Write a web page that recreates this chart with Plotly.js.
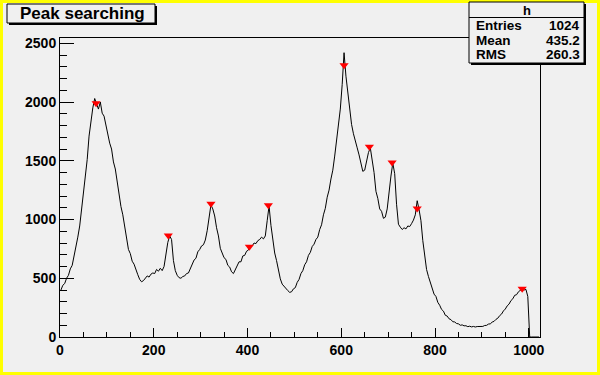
<!DOCTYPE html>
<html>
<head>
<meta charset="utf-8">
<script src="https://cdn.plot.ly/plotly-3.0.1.min.js"></script>
<style>
  html, body { margin: 0; padding: 0; background: #f0f0f0; }
  #chart { width: 600px; height: 375px; }
</style>
</head>
<body>
<div id="chart"></div>
<script>
// Histogram "h": bin contents, bins of width 4 starting at 0
const binStart = 0;
const binWidth = 4;
const counts = [
  400, 440, 455, 500, 525, 580, 610, 690, 750, 850,
  945, 1080, 1200, 1370, 1510, 1710, 1850, 1950, 2030, 1985,
  1940, 2000, 1905, 1880, 1800, 1750, 1650, 1600, 1490, 1430,
  1320, 1250, 1110, 1040, 940, 850, 745, 710, 645, 620,
  565, 530, 490, 470, 480, 500, 520, 510, 535, 545,
  540, 575, 560, 585, 565, 600, 720, 805, 860, 830,
  650, 565, 525, 505, 500, 515, 520, 540, 545, 580,
  610, 655, 670, 725, 745, 775, 785, 825, 905, 1015,
  1125, 1090, 1030, 930, 860, 755, 715, 675, 660, 610,
  595, 555, 540, 575, 600, 640, 640, 690, 695, 730,
  740, 770, 775, 800, 795, 820, 830, 850, 835, 860,
  990, 1115, 950, 825, 715, 650, 555, 495, 450, 430,
  405, 395, 380, 385, 410, 420, 465, 490, 540, 565,
  615, 640, 695, 720, 770, 790, 830, 850, 915, 955,
  1040, 1095, 1190, 1250, 1345, 1420, 1540, 1670, 1850, 1940,
  2150, 2420, 2220, 2080, 1900, 1810, 1730, 1660, 1610, 1550,
  1490, 1410, 1420, 1490, 1570, 1610, 1510, 1400, 1240, 1180,
  1090, 1070, 1010, 1020, 1090, 1240, 1370, 1480, 1390, 1130,
  960, 935, 915, 930, 920, 945, 940, 965, 995, 1040,
  1160, 1085, 990, 820, 700, 575, 515, 460, 425, 365,
  345, 295, 270, 235, 220, 185, 178, 155, 148, 130,
  128, 115, 112, 100, 103, 95, 96, 88, 92, 86,
  90, 85, 89, 88, 92, 90, 98, 99, 110, 112,
  127, 133, 150, 160, 182, 195, 222, 238, 265, 280,
  310, 325, 355, 360, 385, 395, 410, 400, 405, 345,
  0, 0, 0, 0, 0, 0
];

// Peaks found (positions and heights)
const peakX = [77, 231, 322, 404, 444.5, 606, 660, 708.5, 762, 986];
const peakY = [1990, 865, 1135, 768, 1122, 2313, 1620, 1485, 1094, 411];

// Axis ticks
const xTicks = [0, 200, 400, 600, 800, 1000];
const yTicks = [0, 500, 1000, 1500, 2000, 2500];

// Texts
const titleText = "Peak searching";
const statsName = "h";
const statsLabels = ["Entries", "Mean", "RMS"];
const statsValues = ["1024", "435.2", "260.3"];

// Bin centres
const centres = counts.map((_, i) => binStart + (i + 0.5) * binWidth);

const W = 600, H = 375;
const L = 60, R = 540, T = 38, B = 337;
const px = x => (x - L) / (R - L);
const py = y => (B - y) / (B - T);

const FONT = "Liberation Sans, Arial, Helvetica, sans-serif";

const traces = [
  {
    x: centres, y: counts, type: 'scatter', mode: 'lines',
    line: { color: '#000000', width: 1, shape: 'linear' },
    hoverinfo: 'skip', showlegend: false
  },
  {
    x: peakX, y: peakY, type: 'scatter', mode: 'markers',
    marker: { symbol: 'triangle-down', color: '#ff0000', size: 8, line: { width: 0 } },
    showlegend: false
  }
];

const shapes = [
  // canvas yellow border
  { type: 'rect', xref: 'paper', yref: 'paper', x0: px(1.5), x1: px(598.5), y0: py(1.5), y1: py(373.5),
    line: { color: '#ffff00', width: 3 }, fillcolor: 'rgba(0,0,0,0)', layer: 'above' },
  // title box shadow + box
  { type: 'rect', xref: 'paper', yref: 'paper', x0: px(9), x1: px(157), y0: py(6), y1: py(25),
    line: { width: 0 }, fillcolor: '#000000', layer: 'above' },
  { type: 'rect', xref: 'paper', yref: 'paper', x0: px(7), x1: px(155), y0: py(4), y1: py(23),
    line: { color: '#000000', width: 1 }, fillcolor: '#f0f0f0', layer: 'above' },
  // stats box shadow + box
  { type: 'rect', xref: 'paper', yref: 'paper', x0: px(471), x1: px(586), y0: py(4), y1: py(65),
    line: { width: 0 }, fillcolor: '#000000', layer: 'above' },
  { type: 'rect', xref: 'paper', yref: 'paper', x0: px(469), x1: px(584), y0: py(2), y1: py(63),
    line: { color: '#000000', width: 1 }, fillcolor: '#f0f0f0', layer: 'above' },
  { type: 'line', xref: 'paper', yref: 'paper', x0: px(469), x1: px(584), y0: py(17.5), y1: py(17.5),
    line: { color: '#000000', width: 1 }, layer: 'above' }
];

const annotations = [
  { xref: 'paper', yref: 'paper', x: px(18), y: py(13.5), xanchor: 'left', yanchor: 'middle',
    text: titleText, showarrow: false, font: { family: FONT, size: 17, weight: 'bold', color: '#000' } },
  { xref: 'paper', yref: 'paper', x: px(527), y: py(10), xanchor: 'center', yanchor: 'middle',
    text: statsName, showarrow: false, font: { family: FONT, size: 13, weight: 'bold', color: '#000' } }
];
const rowY = [25.5, 40.5, 55];
statsLabels.forEach((lab, i) => {
  annotations.push({ xref: 'paper', yref: 'paper', x: px(474), y: py(rowY[i]), xanchor: 'left', yanchor: 'middle',
    text: lab, showarrow: false, font: { family: FONT, size: 13.5, weight: 'bold', color: '#000' } });
  annotations.push({ xref: 'paper', yref: 'paper', x: px(582), y: py(rowY[i]), xanchor: 'right', yanchor: 'middle',
    text: statsValues[i], showarrow: false, font: { family: FONT, size: 13.5, weight: 'bold', color: '#000' } });
});

const layout = {
  width: W, height: H,
  margin: { l: L, r: W - R, t: T, b: H - B, pad: 0 },
  paper_bgcolor: '#f0f0f0', plot_bgcolor: '#f0f0f0',
  showlegend: false,
  xaxis: {
    range: [0, 1024], tickmode: 'array', tickvals: xTicks, ticktext: xTicks.map(String),
    ticks: 'inside', ticklen: 9, tickcolor: '#000', tickwidth: 1,
    minor: { dtick: 50, tick0: 0, ticks: 'inside', ticklen: 5, tickcolor: '#000', tickwidth: 1, showgrid: false },
    showline: true, linecolor: '#000', linewidth: 1, mirror: true,
    showgrid: false, zeroline: false,
    tickfont: { family: FONT, size: 14, weight: 'bold', color: '#000' }
  },
  yaxis: {
    range: [0, 2545], tickmode: 'array', tickvals: yTicks, ticktext: yTicks.map(String),
    ticks: 'inside', ticklen: 14, tickcolor: '#000', tickwidth: 1,
    minor: { dtick: 100, tick0: 0, ticks: 'inside', ticklen: 7, tickcolor: '#000', tickwidth: 1, showgrid: false },
    showline: true, linecolor: '#000', linewidth: 1, mirror: true,
    showgrid: false, zeroline: false,
    tickfont: { family: FONT, size: 14, weight: 'bold', color: '#000' }
  },
  shapes: shapes,
  annotations: annotations
};

Plotly.newPlot('chart', traces, layout, { displayModeBar: false, staticPlot: true });
</script>
</body>
</html>
